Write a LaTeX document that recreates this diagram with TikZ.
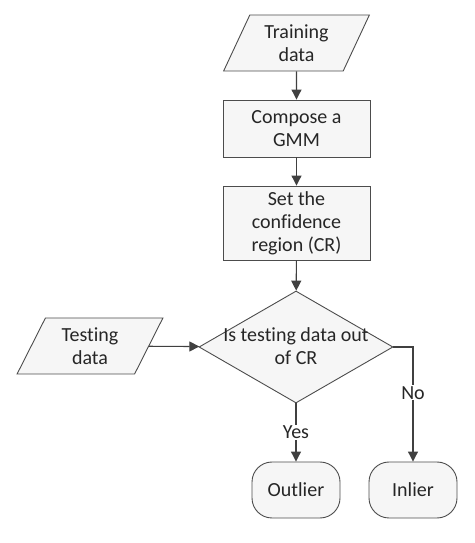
\documentclass[tikz,border=0pt]{standalone}
\usepackage{fontspec}
\setmainfont{Carlito}[Ligatures=CommonOff]
\usetikzlibrary{arrows.meta,shapes.geometric}

\begin{document}
\begin{tikzpicture}[x=1pt,y=1pt,>={Triangle[length=10pt,width=10pt]},
  font=\fontsize{20}{23}\selectfont,
  every node/.style={align=center,text=black!85},
  io/.style={trapezium,trapezium left angle=64,trapezium right angle=116,
    trapezium stretches=true,draw=black!70,fill=gray!7,line width=0.9pt,
    minimum width=147pt,minimum height=56pt,inner sep=0pt},
  proc/.style={rectangle,draw=black!70,fill=gray!7,line width=0.9pt,
    minimum width=147pt,inner sep=0pt},
  term/.style={rectangle,rounded corners=20pt,draw=black!70,fill=gray!7,
    line width=0.9pt,minimum width=88pt,minimum height=56pt,inner sep=0pt},
  flow/.style={->,draw=black!75,line width=1.1pt}]
  \useasboundingbox (0,0) rectangle (474,543);
  % main column
  \node[io] (train) at (296.5,500) {Training\\data};
  \node[proc,minimum height=57pt] (gmm) at (296.5,414.5) {Compose a\\GMM};
  \node[proc,minimum height=74pt] (cr) at (296.5,320) {Set the\\confidence\\region (CR)};
  \node[diamond,draw=black!70,fill=gray!7,line width=0.9pt,inner sep=0pt,
    minimum width=194pt,minimum height=112pt,
    label={[align=center,yshift=1pt]center:Is testing data out\\of CR}] (dec) at (296,196) {};
  % side input and the two outcomes
  \node[io] (test) at (90,197) {Testing\\data};
  \node[term] (outl) at (296,53) {Outlier};
  \node[term] (inl) at (413,53) {Inlier};
  % connectors
  \draw[flow] (train) -- (gmm);
  \draw[flow] (gmm) -- (cr);
  \draw[flow] (cr) -- (dec);
  \draw[flow] (test) -- (dec);
  \draw[flow] (dec.south) -- node[fill=white,inner sep=1pt] {Yes} (outl);
  \draw[flow] (dec.east) -| node[pos=0.7,fill=white,inner sep=1pt] {No} (inl);
\end{tikzpicture}
\end{document}
